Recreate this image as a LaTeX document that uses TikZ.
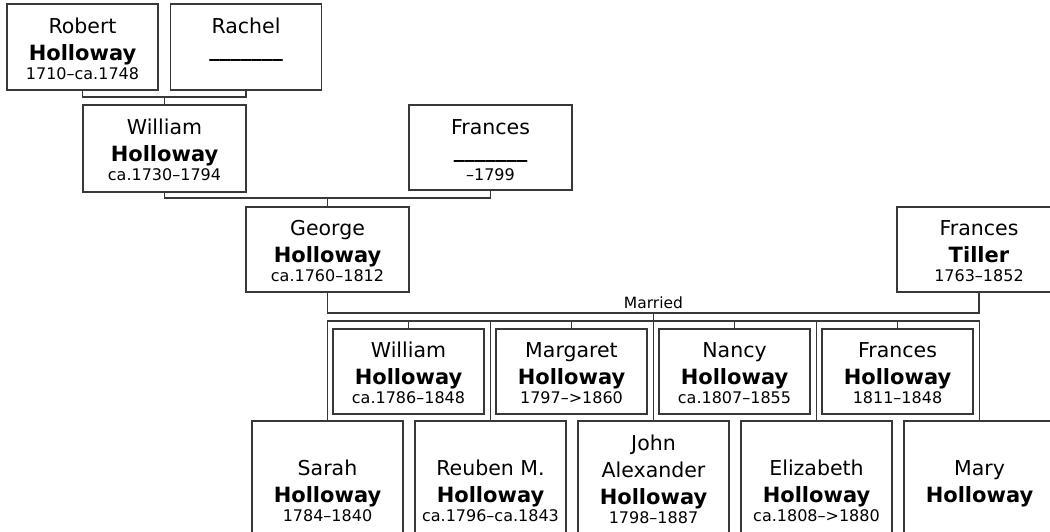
\documentclass[tikz,border=0pt]{standalone}
\usepackage{fontspec}
\setmainfont{DejaVu Sans}
\newcommand{\nm}{\fontsize{20.5}{27}\selectfont\mdseries}
\newcommand{\sn}{\fontsize{21}{27}\selectfont\bfseries}
\newcommand{\dt}{\fontsize{16}{19.5}\selectfont\mdseries}
\newcommand{\card}[4]{\parbox[c][#2][t]{#1}{\centering\rule{0pt}{#3}#4\par}}
\newcommand{\blank}{\raisebox{4pt}{\_\_\_\_\_\_\_}}
\tikzset{
  box/.style={draw=black!78, line width=1.4pt, rectangle, inner sep=0pt, outer sep=0pt, anchor=north west},
  link/.style={draw=black!78, line width=1.4pt},
}
\begin{document}
\begin{tikzpicture}[x=1pt,y=-1pt]
\path[use as bounding box] (0,0) rectangle (1050,531);
\clip (0,0) rectangle (1050,531);
% generation 1
\node[box] (robert) at (7,4) {\card{151pt}{86pt}{29pt}{\nm Robert\par\sn Holloway\par\dt 1710–ca.1748}};
\node[box] (rachel) at (170.5,4) {\card{151pt}{86pt}{29pt}{\nm Rachel\par\sn\blank}};
% generation 2
\node[box] (william) at (83,105) {\card{163pt}{87pt}{29pt}{\nm William\par\sn Holloway\par\dt ca.1730–1794}};
\node[box] (frances) at (409,105) {\card{163pt}{85pt}{29pt}{\nm Frances\par\sn\blank\par\dt –1799}};
% generation 3
\node[box] (george) at (246,207) {\card{163pt}{85pt}{28pt}{\nm George\par\sn Holloway\par\dt ca.1760–1812}};
\node[box] (tiller) at (897,207) {\card{164pt}{85pt}{28pt}{\nm Frances\par\sn Tiller\par\dt 1763–1852}};
% children, upper row
\node[box] (t1) at (333,329) {\card{151pt}{85pt}{28pt}{\nm William\par\sn Holloway\par\dt ca.1786–1848}};
\node[box] (t2) at (496,329) {\card{151pt}{85pt}{28pt}{\nm Margaret\par\sn Holloway\par\dt 1797–>1860}};
\node[box] (t3) at (659,329) {\card{151pt}{85pt}{28pt}{\nm Nancy\par\sn Holloway\par\dt ca.1807–1855}};
\node[box] (t4) at (822,329) {\card{151pt}{85pt}{28pt}{\nm Frances\par\sn Holloway\par\dt 1811–1848}};
% children, lower row
\node[box] (b1) at (252,421) {\card{151pt}{130pt}{54pt}{\nm Sarah\par\sn Holloway\par\dt 1784–1840}};
\node[box] (b2) at (415,421) {\card{151pt}{130pt}{54pt}{\nm Reuben M.\par\sn Holloway\par\dt ca.1796–ca.1843}};
\node[box] (b3) at (578,421) {\card{151pt}{130pt}{29pt}{\nm John\par Alexander\par\sn Holloway\par\dt 1798–1887}};
\node[box] (b4) at (741,421) {\card{151pt}{130pt}{54pt}{\nm Elizabeth\par\sn Holloway\par\dt ca.1808–>1880}};
\node[box] (b5) at (904,421) {\card{151pt}{130pt}{54pt}{\nm Mary\par\sn Holloway}};
% connectors
\coordinate (j1) at (164.5,97);
\draw[link] (robert.south) |- (j1) -| (rachel.south);
\draw[link] (j1) -- (william.north);
\coordinate (j2) at (327.5,198);
\draw[link] (william.south) |- (j2) -| (frances.south);
\draw[link] (j2) -- (george.north);
\coordinate (j3) at (653.5,313);
\draw[link] (george.south) |- (j3) -| (tiller.south);
\node[anchor=base, inner sep=0pt] (married) at (653.5,308) {\fontsize{15.5}{19}\selectfont Married};
\coordinate (k) at (653.5,321);
\draw[link] (j3) -- (k);
\draw[link] (b1.north) |- (k) -| (b5.north);
\draw[link] (b2.north) -- (b2.north |- k);
\draw[link] (b3.north) -- (b3.north |- k);
\draw[link] (b4.north) -- (b4.north |- k);
\draw[link] (t1.north) -- (t1.north |- k);
\draw[link] (t2.north) -- (t2.north |- k);
\draw[link] (t3.north) -- (t3.north |- k);
\draw[link] (t4.north) -- (t4.north |- k);
\end{tikzpicture}
\end{document}
